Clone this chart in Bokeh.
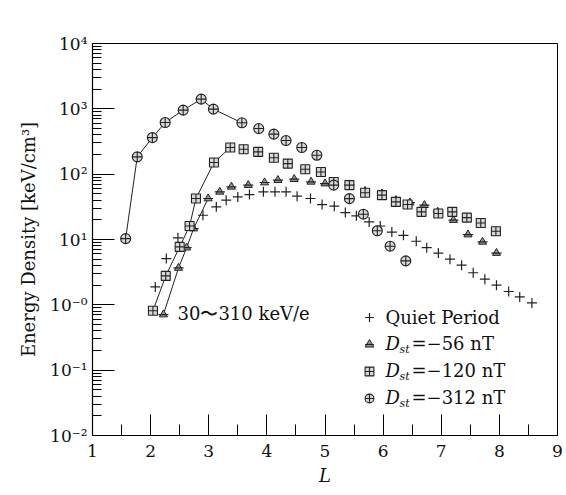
from bokeh.plotting import figure
from bokeh.models import FixedTicker, Label, Legend, LegendItem, BoxAnnotation
from bokeh.embed import file_html
from bokeh.resources import INLINE

# ---- data ----
L_quiet = [2.08, 2.27, 2.47, 2.68, 2.90, 3.13, 3.30, 3.50, 3.70, 3.94, 4.14, 4.33, 4.52, 4.75,
           4.95, 5.16, 5.35, 5.54, 5.76, 5.95, 6.15, 6.35, 6.57, 6.75, 6.95, 7.15, 7.35, 7.55,
           7.75, 7.95, 8.16, 8.35, 8.56]
E_quiet = [1.88, 5.1, 10.6, 16, 23.5, 31.6, 40, 44.9, 48.7, 53.6, 53.6, 53.6, 46, 42.4,
           34.3, 32.4, 25.8, 23, 18.6, 16.1, 13, 11.6, 9.4, 7.5, 6.2, 5.0, 4.04, 3.1,
           2.47, 2.0, 1.6, 1.32, 1.07]

L_56 = [2.22, 2.48, 2.62, 2.74, 2.99, 3.19, 3.39, 3.68, 3.96, 4.19, 4.47, 4.76, 5.00,
        5.42, 5.69, 5.98, 6.22, 6.46, 6.71, 6.94, 7.21, 7.46, 7.71, 7.95]
E_56 = [0.71, 3.67, 7.5, 14.7, 42.4, 53.6, 64, 67.8, 74.5, 81, 83.8, 76.3, 71.8,
        69, 55, 50.5, 40, 36.7, 33.5, 26.5, 19.8, 11.9, 9.2, 6.2]
N_LINE_56 = 5

L_120 = [2.04, 2.26, 2.50, 2.67, 2.78, 3.09, 3.37, 3.60, 3.85, 4.12, 4.36, 4.66, 4.93,
         5.15, 5.42, 5.69, 5.98, 6.22, 6.42, 6.66, 6.95, 7.19, 7.44, 7.68, 7.94]
E_120 = [0.81, 2.77, 7.7, 16.1, 42.4, 151, 256, 241, 219, 178, 145, 119, 108,
         76, 68, 52, 47.7, 37.7, 34.3, 26.5, 25, 26.5, 21.6, 17.9, 13.4]
N_LINE_120 = 7

L_312 = [1.57, 1.77, 2.03, 2.25, 2.56, 2.87, 3.08, 3.57, 3.86, 4.12, 4.33, 4.60, 4.86,
         5.15, 5.42, 5.66, 5.90, 6.12, 6.39]
E_312 = [10.3, 184, 363, 617, 955, 1406, 989, 611, 499, 410, 327, 256, 195,
         68, 42.3, 24.4, 13.6, 7.9, 4.7]
N_LINE_312 = 8

X_TICKS = [1, 2, 3, 4, 5, 6, 7, 8, 9]
X_MINOR = [1.5, 2.5, 3.5, 4.5, 5.5, 6.5, 7.5, 8.5]
Y_TICKS = [1e-2, 1e-1, 1.0, 10.0, 100.0, 1000.0, 10000.0]
Y_TICK_LABELS = ["10\u207b\u00b2", "10\u207b\u00b9", "10\u207b\u2070", "10\u00b9",
                 "10\u00b2", "10\u00b3", "10\u2074"]
Y_MINOR = [k * 10.0 ** d for d in range(-2, 4) for k in range(2, 10)]

LEGEND_LABELS = ["Quiet Period", "=\u221256 nT", "=\u2212120 nT", "=\u2212312 nT"]
ANNOT = "30\u301c310 keV/e"

FONT = "DejaVu Serif"
INK = "#222222"

p = figure(width=566, height=495, x_range=(1, 9), y_range=(1e-2, 1e4),
           y_axis_type="log", output_backend="svg", toolbar_location=None,
           min_border_left=92, min_border_right=9, min_border_top=43, min_border_bottom=60)
p.background_fill_color = "white"
p.border_fill_color = "white"
p.outline_line_color = "black"
p.outline_line_width = 1
p.xgrid.visible = False
p.ygrid.visible = False

for ax in (p.xaxis[0], p.yaxis[0]):
    ax.axis_line_color = "black"
    ax.axis_line_width = 1.2
    ax.major_tick_line_color = "black"
    ax.minor_tick_line_color = "black"
    ax.major_tick_out = 0
    ax.minor_tick_out = 0
    ax.major_label_text_font = FONT
    ax.major_label_text_font_size = "17px"
    ax.major_label_text_color = "#111111"
    ax.axis_label_text_font = FONT
    ax.axis_label_text_font_size = "18px"
    ax.axis_label_text_color = "#111111"

p.xaxis.ticker = FixedTicker(ticks=X_TICKS, minor_ticks=X_MINOR)
p.xaxis.major_tick_in = 21
p.xaxis.minor_tick_in = 11
p.xaxis.major_label_standoff = 9
p.xaxis.axis_label = "L"
p.xaxis.axis_label_text_font_style = "italic"
p.xaxis.axis_label_standoff = 5

p.yaxis.ticker = FixedTicker(ticks=Y_TICKS, minor_ticks=Y_MINOR)
p.yaxis.major_label_overrides = {t: s for t, s in zip(Y_TICKS, Y_TICK_LABELS)}
p.yaxis.major_tick_in = 22
p.yaxis.minor_tick_in = 9
p.yaxis.major_label_standoff = 5
p.yaxis.axis_label = "Energy Density [keV/cm\u00b3]"
p.yaxis.axis_label_text_font_style = "normal"
p.yaxis.axis_label_standoff = 8

# faint outer frame of the scanned figure (left and top edges)
p.add_layout(BoxAnnotation(left=-85, right=700, top=425, bottom=-200,
                           left_units="screen", right_units="screen",
                           top_units="screen", bottom_units="screen",
                           fill_alpha=0, line_color="#c8c8c8", line_width=2))

# connecting lines
p.line(L_312[:N_LINE_312], E_312[:N_LINE_312], line_color=INK, line_width=1)
p.line(L_120[:N_LINE_120], E_120[:N_LINE_120], line_color=INK, line_width=1)
p.line(L_56[:N_LINE_56], E_56[:N_LINE_56], line_color=INK, line_width=1)

r_q = p.scatter(L_quiet, E_quiet, marker="cross", size=10, line_color=INK, line_width=1.2)
r_56 = p.scatter(L_56, E_56, marker="triangle", size=8, line_color=INK, fill_color="#999999",
                 line_width=1)
r_56d = p.scatter(L_56, E_56, marker="dash", size=10, line_color=INK, line_width=1.2)
r_120 = p.scatter(L_120, E_120, marker="square_cross", size=9, line_color=INK,
                  fill_color="#d8d8d8", line_width=1.1)
r_312 = p.scatter(L_312, E_312, marker="circle_cross", size=10, line_color=INK,
                  fill_color="#d8d8d8", line_width=1.1)

legend = Legend(items=[LegendItem(label="", renderers=[r_q]),
                       LegendItem(label="", renderers=[r_56, r_56d]),
                       LegendItem(label="", renderers=[r_120]),
                       LegendItem(label="", renderers=[r_312])],
                location=(266, 26), glyph_width=22, glyph_height=22, spacing=5,
                padding=0, margin=0, label_height=22, label_width=0, label_standoff=0,
                label_text_font_size="2px", border_line_color=None,
                background_fill_alpha=0)
p.add_layout(legend, "center")

rows_y = [118.3, 91.7, 65.0, 38.3]
p.add_layout(Label(x=293, y=rows_y[0], x_units="screen", y_units="screen", text=LEGEND_LABELS[0],
                   text_font=FONT, text_font_size="18px", text_baseline="middle",
                   text_color="#111111"))
for i in range(1, 4):
    y = rows_y[i]
    p.add_layout(Label(x=293, y=y, x_units="screen", y_units="screen", text="D",
                       text_font=FONT, text_font_size="18px", text_font_style="italic",
                       text_baseline="middle", text_color="#111111"))
    p.add_layout(Label(x=307, y=y - 6, x_units="screen", y_units="screen", text="st",
                       text_font=FONT, text_font_size="11px", text_font_style="italic",
                       text_baseline="middle", text_color="#111111"))
    p.add_layout(Label(x=319, y=y, x_units="screen", y_units="screen", text=LEGEND_LABELS[i],
                       text_font=FONT, text_font_size="18px",
                       text_baseline="middle", text_color="#111111"))

p.add_layout(Label(x=85, y=122.3, x_units="screen", y_units="screen", text=ANNOT,
                   text_font=FONT, text_font_size="18px", text_baseline="middle",
                   text_color="#111111"))

open("out.html", "w").write(file_html(p, INLINE))
